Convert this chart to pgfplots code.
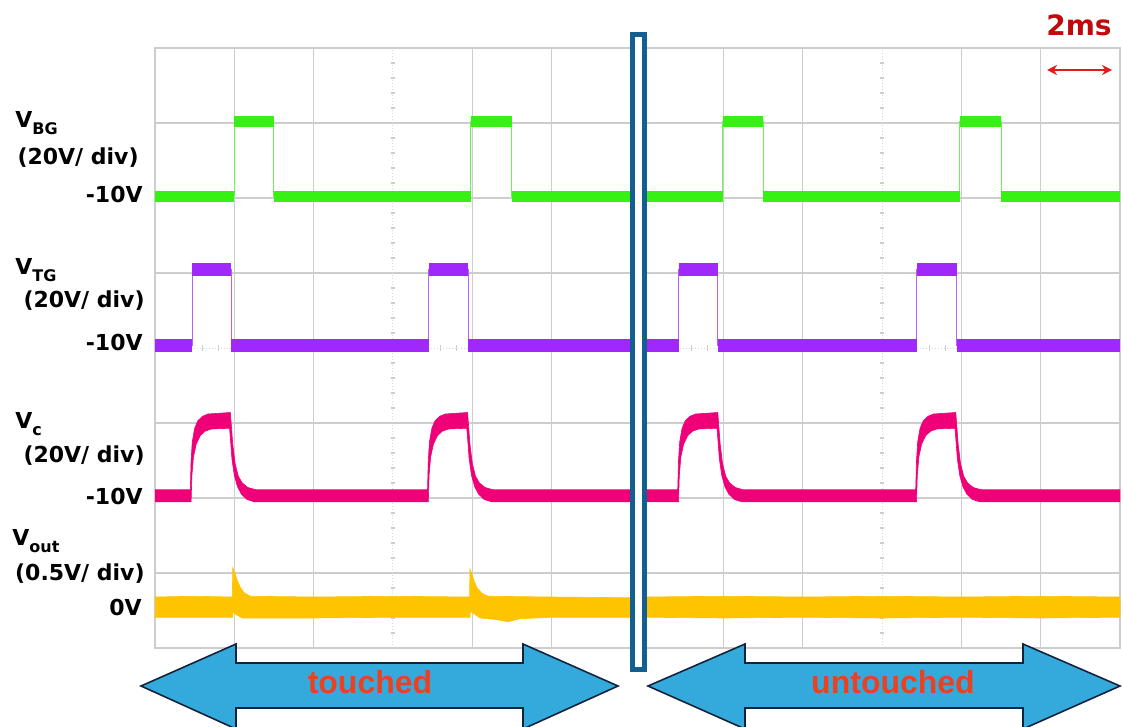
\documentclass[border=0pt]{standalone}
\usepackage{pgfplots}
\pgfplotsset{compat=1.18}
\usetikzlibrary{arrows.meta}
\usepackage{fontspec}
\setmainfont{DejaVu Sans}
\newfontfamily\arialf{Liberation Sans}
\definecolor{cgreen}{RGB}{55,240,20}
\definecolor{cpurple}{RGB}{160,40,250}
\definecolor{cpink}{RGB}{240,0,120}
\definecolor{cyellow}{RGB}{255,196,0}
\definecolor{gridc}{RGB}{205,205,205}
\definecolor{boxblue}{RGB}{20,95,145}
\definecolor{arrowblue}{RGB}{52,170,220}
\definecolor{arrowedge}{RGB}{20,35,60}
\definecolor{txtred}{RGB}{235,65,35}
\definecolor{msred}{RGB}{190,10,10}
\definecolor{arrred}{RGB}{230,25,25}
\pgfplotsset{scopeax/.style={
  width=238pt, height=300pt, scale only axis,
  xmin=0, xmax=6, ymin=0, ymax=8,
  xtick={0,1,2,4,5,6}, ytick={0,1,2,3,5,6,7,8},
  xticklabels={}, yticklabels={}, major tick length=0pt,
  tick style={draw=none},
  grid=major, major grid style={gridc, line width=0.75pt},
  axis line style={gridc, line width=0.75pt},
  unbounded coords=jump,
  anchor=south west,
}}
\newcommand\centerlines{%
  \draw[gridc!80, line width=0.5pt, densely dotted] (axis cs:3,0) -- (axis cs:3,8);
  \draw[gridc!80, line width=0.5pt, densely dotted] (axis cs:0,4) -- (axis cs:6,4);
  \pgfplotsinvokeforeach{0.2,0.4,0.6,0.8,1.2,1.4,1.6,1.8,2.2,2.4,2.6,2.8,3.2,3.4,3.6,3.8,4.2,4.4,4.6,4.8,5.2,5.4,5.6,5.8,6.2,6.4,6.6,6.8,7.2,7.4,7.6,7.8}{%
    \draw[gridc, line width=0.6pt] (axis cs:2.97,##1) -- (axis cs:3.03,##1);}
  \pgfplotsinvokeforeach{0.2,0.4,0.6,0.8,1.2,1.4,1.6,1.8,2.2,2.4,2.6,2.8,3.2,3.4,3.6,3.8,4.2,4.4,4.6,4.8,5.2,5.4,5.6,5.8}{%
    \draw[gridc, line width=0.6pt] (axis cs:##1,3.96) -- (axis cs:##1,4.04);}
}
\newcommand\lab{\fontsize{11}{13}\selectfont\bfseries}
\newcommand\sub{\fontsize{8}{9}\selectfont}
\begin{document}
\begin{tikzpicture}
\path[use as bounding box] (0pt,0pt) rectangle (561.5pt,-363.5pt);
% ---------------- left panel ----------------
\begin{axis}[scopeax, at={(77.5pt,-324pt)}]
\centerlines
% V_BG
\addplot[cgreen!75, line width=0.5pt] coordinates {(0,6.02) (1.0,6.02) (1.0,7.02) (1.5,7.02) (1.5,6.02) (3.98,6.02) (3.98,7.02) (4.5,7.02) (4.5,6.02) (6,6.02)};
\addplot[cgreen, line width=5.5pt] coordinates {(0,6.02) (1.0,6.02) (1.0,nan) (1.0,7.02) (1.5,7.02) (1.5,nan) (1.5,6.02) (3.98,6.02) (3.98,nan) (3.98,7.02) (4.5,7.02) (4.5,nan) (4.5,6.02) (6,6.02)};
% V_TG
\addplot[cpurple!75, line width=0.5pt] coordinates {(0,4.03) (0.47,4.03) (0.47,5.05) (0.96,5.05) (0.96,4.03) (3.45,4.03) (3.45,5.05) (3.95,5.05) (3.95,4.03) (6,4.03)};
\addplot[cpurple, line width=6.5pt] coordinates {(0,4.03) (0.47,4.03) (0.47,nan) (0.47,5.05) (0.96,5.05) (0.96,nan) (0.96,4.03) (3.45,4.03) (3.45,nan) (3.45,5.05) (3.95,5.05) (3.95,nan) (3.95,4.03) (6,4.03)};
% V_c
\addplot[cpink, fill=cpink, line width=0.3pt] coordinates {
(0,2.11) (0.445,2.11) (0.455,2.5) (0.47,2.75) (0.50,2.93) (0.54,3.03) (0.60,3.09) (0.67,3.12) (0.95,3.14) (0.96,3.0) (0.98,2.72) (1.01,2.46) (1.05,2.29) (1.10,2.2) (1.17,2.14) (1.27,2.11)
(3.435,2.11) (3.445,2.5) (3.46,2.75) (3.49,2.93) (3.53,3.03) (3.59,3.09) (3.66,3.12) (3.94,3.14) (3.95,3.0) (3.97,2.72) (4.0,2.46) (4.04,2.29) (4.09,2.2) (4.16,2.14) (4.26,2.11) (6,2.11)
(6,1.95) (4.24,1.95) (4.15,1.98) (4.08,2.05) (4.03,2.15) (3.99,2.3) (3.96,2.52) (3.94,2.8) (3.93,2.93) (3.70,2.92) (3.62,2.89) (3.56,2.83) (3.51,2.72) (3.475,2.55) (3.455,2.3) (3.445,1.95)
(1.25,1.95) (1.16,1.98) (1.09,2.05) (1.04,2.15) (1.0,2.3) (0.97,2.52) (0.95,2.8) (0.94,2.93) (0.71,2.92) (0.63,2.89) (0.57,2.83) (0.52,2.72) (0.485,2.55) (0.465,2.3) (0.455,1.95) (0,1.95)} -- cycle;
% V_out
\addplot[cyellow, fill=cyellow, line width=0.3pt] coordinates {
(0,0.68) (0.5,0.69) (0.975,0.68) (0.98,1.07) (1.0,1.02) (1.03,0.92) (1.07,0.82) (1.12,0.74) (1.2,0.69) (2,0.68) (3.0,0.69) (3.965,0.68) (3.97,1.05) (3.99,1.0) (4.02,0.9) (4.06,0.8) (4.12,0.73) (4.2,0.69) (5,0.68) (6,0.67)
(6,0.41) (5,0.41) (4.6,0.39) (4.45,0.35) (4.3,0.38) (4.1,0.40) (4.0,0.47) (3.975,0.5) (3.97,0.41) (3,0.41) (2,0.40) (1.1,0.40) (1.0,0.46) (0.985,0.52) (0.98,0.41) (0,0.41)} -- cycle;
\end{axis}
% ---------------- right panel ----------------
\begin{axis}[scopeax, at={(322pt,-324pt)}]
\centerlines
\addplot[cgreen!75, line width=0.5pt] coordinates {(0,6.02) (0.99,6.02) (0.99,7.02) (1.5,7.02) (1.5,6.02) (3.98,6.02) (3.98,7.02) (4.5,7.02) (4.5,6.02) (6,6.02)};
\addplot[cgreen, line width=5.5pt] coordinates {(0,6.02) (0.99,6.02) (0.99,nan) (0.99,7.02) (1.5,7.02) (1.5,nan) (1.5,6.02) (3.98,6.02) (3.98,nan) (3.98,7.02) (4.5,7.02) (4.5,nan) (4.5,6.02) (6,6.02)};
\addplot[cpurple!75, line width=0.5pt] coordinates {(0,4.03) (0.44,4.03) (0.44,5.05) (0.93,5.05) (0.93,4.03) (3.44,4.03) (3.44,5.05) (3.94,5.05) (3.94,4.03) (6,4.03)};
\addplot[cpurple, line width=6.5pt] coordinates {(0,4.03) (0.44,4.03) (0.44,nan) (0.44,5.05) (0.93,5.05) (0.93,nan) (0.93,4.03) (3.44,4.03) (3.44,nan) (3.44,5.05) (3.94,5.05) (3.94,nan) (3.94,4.03) (6,4.03)};
\addplot[cpink, fill=cpink, line width=0.3pt] coordinates {
(0,2.11) (0.425,2.11) (0.435,2.5) (0.45,2.75) (0.48,2.93) (0.52,3.03) (0.58,3.09) (0.65,3.12) (0.93,3.14) (0.94,3.0) (0.96,2.72) (0.99,2.46) (1.03,2.29) (1.08,2.2) (1.15,2.14) (1.25,2.11)
(3.425,2.11) (3.435,2.5) (3.45,2.75) (3.48,2.93) (3.52,3.03) (3.58,3.09) (3.65,3.12) (3.93,3.14) (3.94,3.0) (3.96,2.72) (3.99,2.46) (4.03,2.29) (4.08,2.2) (4.15,2.14) (4.25,2.11) (6,2.11)
(6,1.95) (4.23,1.95) (4.14,1.98) (4.07,2.05) (4.02,2.15) (3.98,2.3) (3.95,2.52) (3.93,2.8) (3.92,2.93) (3.69,2.92) (3.61,2.89) (3.55,2.83) (3.50,2.72) (3.465,2.55) (3.445,2.3) (3.435,1.95)
(1.23,1.95) (1.14,1.98) (1.07,2.05) (1.02,2.15) (0.98,2.3) (0.95,2.52) (0.93,2.8) (0.92,2.93) (0.69,2.92) (0.61,2.89) (0.55,2.83) (0.50,2.72) (0.465,2.55) (0.445,2.3) (0.435,1.95) (0,1.95)} -- cycle;
\addplot[cyellow, fill=cyellow, line width=0.3pt] coordinates {
(0,0.68) (1,0.69) (2,0.68) (3,0.69) (4,0.68) (5,0.69) (6,0.68)
(6,0.41) (5,0.40) (4,0.41) (3,0.40) (2,0.41) (1,0.40) (0,0.41)} -- cycle;
\end{axis}
% ---------------- annotations (pixel coordinates) ----------------
\begin{scope}[x=0.5pt,y=-0.5pt]
% channel labels
\node[anchor=base west, inner sep=0pt] at (15,128) {\lab V\raisebox{-3.5pt}{\sub BG}};
\node[anchor=base east, inner sep=0pt] at (139,165) {\lab (20V/ div)};
\node[anchor=base east, inner sep=0pt] at (143,203) {\lab -10V};
\node[anchor=base west, inner sep=0pt] at (15,274) {\lab V\raisebox{-3.5pt}{\sub TG}};
\node[anchor=base east, inner sep=0pt] at (145,307) {\lab (20V/ div)};
\node[anchor=base east, inner sep=0pt] at (143,350) {\lab -10V};
\node[anchor=base west, inner sep=0pt] at (15,428) {\lab V\raisebox{-3.5pt}{\sub c}};
\node[anchor=base east, inner sep=0pt] at (145,462) {\lab (20V/ div)};
\node[anchor=base east, inner sep=0pt] at (143,504) {\lab -10V};
\node[anchor=base west, inner sep=0pt] at (12,545) {\lab V\raisebox{-3.5pt}{\sub\bfseries out}};
\node[anchor=base east, inner sep=0pt] at (145,580) {\lab (0.5V/ div)};
\node[anchor=base east, inner sep=0pt] at (142,615) {\lab 0V};
% time scale
\node[anchor=base east, inner sep=0pt, text=msred] at (1112,36) {\fontsize{14}{16}\selectfont\bfseries 2ms};
\draw[arrred, line width=1.3pt, {Stealth[length=5pt,width=5pt]}-{Stealth[length=5pt,width=5pt]}] (1047,70) -- (1112,70);
% bottom arrows
\draw[fill=arrowblue, draw=arrowedge, line width=0.8pt, line join=miter]
  (141,686) -- (236,644) -- (236,663) -- (523,663) -- (523,644) -- (618,686) -- (523,729) -- (523,708) -- (236,708) -- (236,729) -- cycle;
\draw[fill=arrowblue, draw=arrowedge, line width=0.8pt, line join=miter]
  (648,686) -- (745,644) -- (745,663) -- (1023,663) -- (1023,644) -- (1120,686) -- (1023,729) -- (1023,708) -- (745,708) -- (745,729) -- cycle;
\node[anchor=base, inner sep=0pt, text=txtred] at (370,693) {\arialf\fontsize{16}{18}\selectfont\bfseries touched};
\node[anchor=base, inner sep=0pt, text=txtred] at (893,693) {\arialf\fontsize{16}{18}\selectfont\bfseries untouched};
% separator box
\draw[boxblue, line width=2.5pt, fill=white] (632.5,34.5) rectangle (644.5,669.5);
\end{scope}
\end{tikzpicture}
\end{document}
